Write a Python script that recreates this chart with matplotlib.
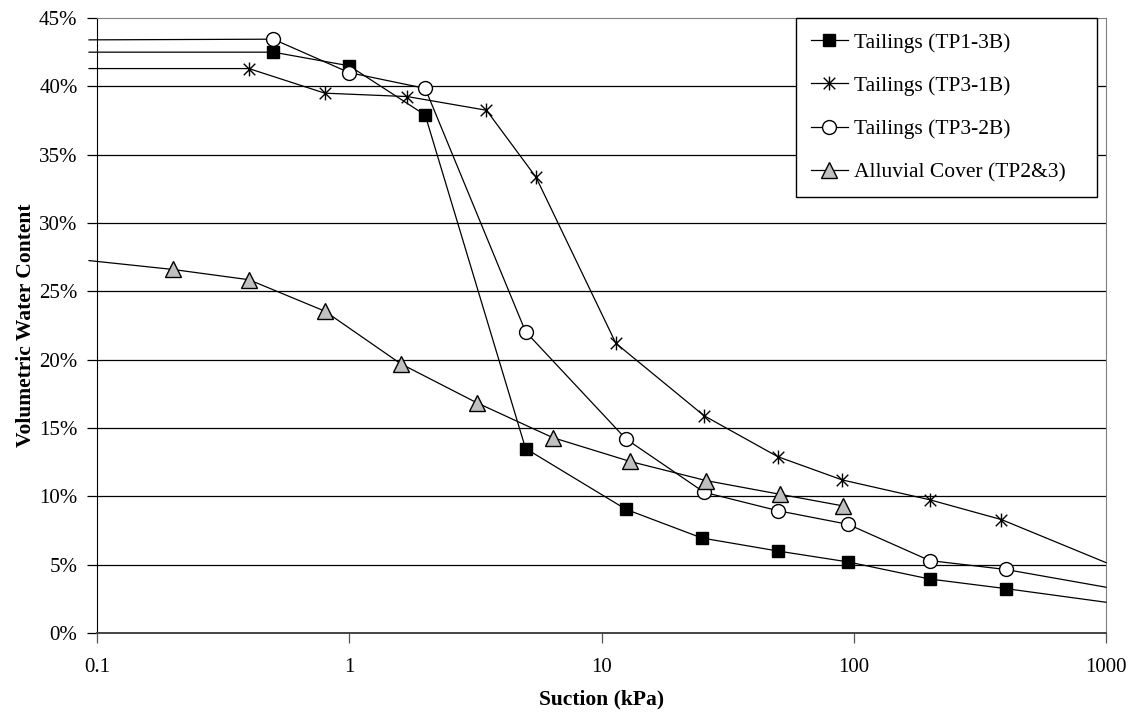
import matplotlib.pyplot as plt
from matplotlib.path import Path
from matplotlib.ticker import FixedLocator, FuncFormatter

plt.rcParams['font.family'] = ['Liberation Serif', 'DejaVu Serif']

# measured points (suction kPa, volumetric water content %)
tp1_3b_x = [0.5, 1, 2, 5, 12.5, 25, 50, 95, 200, 400]
tp1_3b_y = [42.5, 41.5, 37.9, 13.5, 9.05, 6.95, 6.0, 5.2, 3.95, 3.25]
tp3_1b_x = [0.4, 0.8, 1.7, 3.5, 5.5, 11.4, 25.5, 50, 90, 200, 385]
tp3_1b_y = [41.3, 39.5, 39.25, 38.25, 33.35, 21.2, 15.9, 12.9, 11.2, 9.75, 8.3]
tp3_2b_x = [0.5, 1, 2, 5, 12.5, 25.5, 50, 95, 200, 400]
tp3_2b_y = [43.45, 41.0, 39.85, 22.05, 14.2, 10.3, 8.95, 7.95, 5.3, 4.65]
alluv_x = [0.2, 0.4, 0.8, 1.6, 3.2, 6.4, 13, 26, 51, 90.6]
alluv_y = [26.6, 25.85, 23.55, 19.7, 16.85, 14.3, 12.55, 11.15, 10.15, 9.3]

# fitted curve tails (no markers) beyond the measured range
tail_lo_x = 0.093
tail_hi_x = 1000
tp1_3b_tail = (42.5, 2.25)
tp3_1b_tail = (41.3, 5.15)
tp3_2b_tail = (43.4, 3.35)
alluv_tail = 27.25

labels = ['Tailings (TP1-3B)', 'Tailings (TP3-1B)', 'Tailings (TP3-2B)', 'Alluvial Cover (TP2&3)']
xticks = [0.1, 1, 10, 100, 1000]
yticks = list(range(0, 50, 5))

# Excel style star: X with a vertical bar
star = Path([(-1, -1), (1, 1), (-1, 1), (1, -1), (0, -1.2), (0, 1.2)],
            [Path.MOVETO, Path.LINETO, Path.MOVETO, Path.LINETO, Path.MOVETO, Path.LINETO])

fig = plt.figure(figsize=(11.31, 7.12), dpi=100)
ax = fig.add_axes([97/1131, 1-633/712, 1009/1131, 615/712])

for yv in yticks[1:-1]:
    ax.axhline(yv, color='black', lw=0.9, zorder=1)

def series(x, y, lo, hi, marker, ms, fc, label, mew=1.0):
    xs, ys = list(x), list(y)
    start = 0
    if lo is not None:
        xs = [tail_lo_x] + xs
        ys = [lo] + ys
        start = 1
    if hi is not None:
        xs = xs + [tail_hi_x]
        ys = ys + [hi]
    ax.plot(xs, ys, '-', color='black', lw=0.9, marker=marker, ms=ms, mfc=fc, mec='black',
            mew=mew, markevery=list(range(start, start + len(x))), label=label, clip_on=False, zorder=3)

series(tp1_3b_x, tp1_3b_y, tp1_3b_tail[0], tp1_3b_tail[1], 's', 9, 'black', labels[0])
series(tp3_1b_x, tp3_1b_y, tp3_1b_tail[0], tp3_1b_tail[1], star, 10, 'none', labels[1], mew=1.0)
series(tp3_2b_x, tp3_2b_y, tp3_2b_tail[0], tp3_2b_tail[1], 'o', 10, 'white', labels[2])
series(alluv_x, alluv_y, alluv_tail, None, '^', 11, '#c0c0c0', labels[3])

ax.set_xscale('log')
ax.set_xlim(0.1, 1000)
ax.set_ylim(0, 45)
ax.xaxis.set_major_locator(FixedLocator(xticks))
ax.xaxis.set_minor_locator(FixedLocator([]))
ax.xaxis.set_major_formatter(FuncFormatter(lambda v, p: f'{v:g}'))
ax.set_yticks(yticks)
ax.yaxis.set_major_formatter(FuncFormatter(lambda v, p: f'{v:.0f}%'))
ax.tick_params(direction='out', length=7, width=0.9, labelsize=15, colors='black', pad=7)
ax.tick_params(axis='x', colors='#555555', labelcolor='black', pad=11)

ax.spines['left'].set_color('black')
ax.spines['bottom'].set_color('#444444')
ax.spines['bottom'].set_linewidth(1.4)
ax.spines['top'].set_color('#808080')
ax.spines['right'].set_color('#808080')
for s in ax.spines.values():
    s.set_zorder(2)

ax.set_xlabel('Suction (kPa)', fontsize=15.5, fontweight='bold', labelpad=9)
ax.set_ylabel('Volumetric Water Content', fontsize=15.5, fontweight='bold', labelpad=2)

leg = ax.legend(loc='upper left', bbox_to_anchor=(699/1009, 0.0, 301/1009, 1.0), mode='expand',
                borderaxespad=0, fontsize=15.5, frameon=True, fancybox=False, edgecolor='black',
                framealpha=1, labelspacing=1.08, handlelength=1.75, handletextpad=0.25,
                borderpad=0.68, markerscale=1.0)
leg.get_frame().set_linewidth(1.0)
leg.set_zorder(5)

fig.savefig('out.png', dpi=100)
